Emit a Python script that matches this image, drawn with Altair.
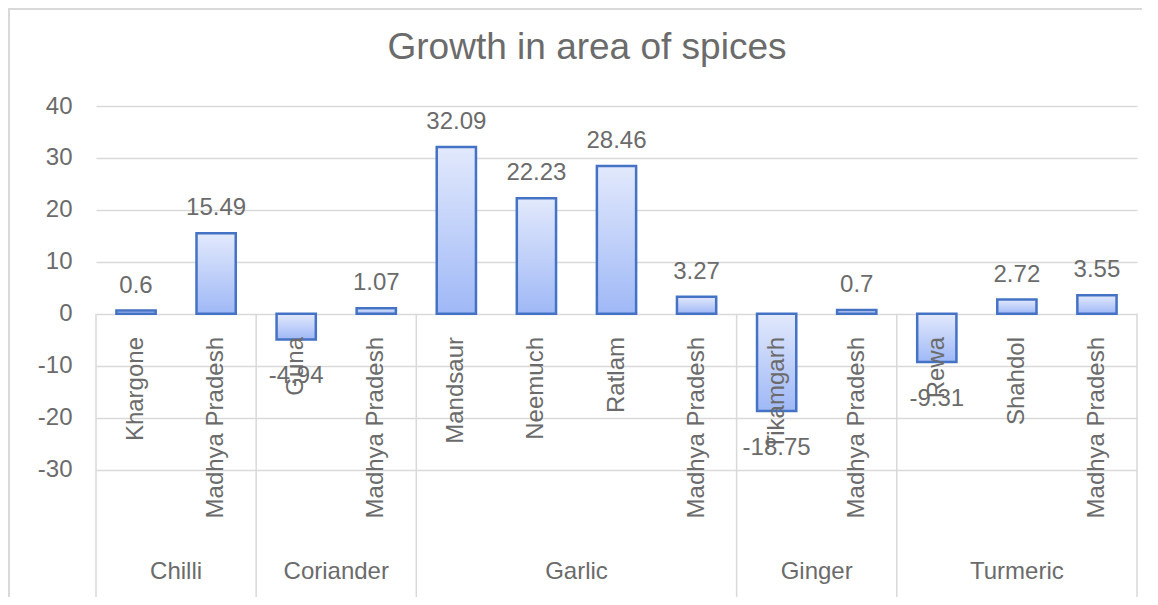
import altair as alt
import pandas as pd

title_text = "Growth in area of spices"
crops = ["Chilli", "Chilli", "Coriander", "Coriander", "Garlic", "Garlic", "Garlic",
         "Garlic", "Ginger", "Ginger", "Turmeric", "Turmeric", "Turmeric"]
districts = ["Khargone", "Madhya Pradesh", "Guna", "Madhya Pradesh", "Mandsaur", "Neemuch",
             "Ratlam", "Madhya Pradesh", "Tikamgarh", "Madhya Pradesh", "Rewa", "Shahdol",
             "Madhya Pradesh"]
growth = [0.6, 15.49, -4.94, 1.07, 32.09, 22.23, 28.46, 3.27, -18.75, 0.7, -9.31, 2.72, 3.55]
y_ticks = [-30, -20, -10, 0, 10, 20, 30, 40]

FONT = "Liberation Sans"
TXT = "#6b6b6b"
GRID = "#d9d9d9"
N = len(districts)
W, H = 1041, 496
PX_PER_UNIT = 5.3
YMAX = 40
YMIN = YMAX - H / PX_PER_UNIT

df = pd.DataFrame({"crop": crops, "district": districts, "growth": growth,
                   "label": [str(v) for v in growth]})
df["idx"] = range(N)
df["pos"] = df["idx"] + 0.5
df["x0"] = df["idx"] + 0.255
df["x1"] = df["idx"] + 0.745
df["zero"] = 0.0

groups = []
start = 0
for c in dict.fromkeys(crops):
    n = crops.count(c)
    groups.append({"crop": c, "start": start, "end": start + n, "mid": start + n / 2})
    start += n
gdf = pd.DataFrame(groups)
bounds = pd.DataFrame({"b": [0] + [g["end"] for g in groups], "zero": 0.0})

xs = alt.Scale(domain=[0, N], nice=False, zero=False)
ys = alt.Scale(domain=[YMIN, YMAX], nice=False, zero=False)

grad = alt.LinearGradient(
    gradient="linear",
    stops=[alt.GradientStop(color="#e2e9fc", offset=0),
           alt.GradientStop(color="#9fb8f6", offset=1)],
    x1=0, x2=0, y1=0, y2=1)

base = alt.Chart(df)

grid = base.mark_bar(opacity=0).encode(
    x=alt.X("x0:Q", scale=xs, axis=None),
    x2="x1:Q",
    y=alt.Y("zero:Q", scale=ys,
            axis=alt.Axis(values=y_ticks, grid=True, gridColor=GRID, gridWidth=1.5,
                          ticks=False, domain=False, title=None, labelFont=FONT,
                          labelFontSize=24, labelColor=TXT, labelPadding=24,
                          labelExpr="'' + datum.value")),
)

seps = alt.Chart(bounds).mark_rule(color=GRID, strokeWidth=1.5).encode(
    x=alt.X("b:Q", scale=xs, axis=None),
    y=alt.Y("zero:Q", scale=ys),
    y2=alt.value(H),
)

bars = base.mark_bar(fill=grad, stroke="#4472c4", strokeWidth=2.5).encode(
    x=alt.X("x0:Q", scale=xs, axis=None),
    x2="x1:Q",
    y=alt.Y("growth:Q", scale=ys),
    y2="zero:Q",
)

pos_lbl = base.transform_filter("datum.growth >= 0").mark_text(
    baseline="alphabetic", dy=-18, font=FONT, fontSize=24, color=TXT).encode(
    x=alt.X("pos:Q", scale=xs), y=alt.Y("growth:Q", scale=ys), text="label:N")

neg_lbl = base.transform_filter("datum.growth < 0").mark_text(
    baseline="alphabetic", dy=44, font=FONT, fontSize=24, color=TXT).encode(
    x=alt.X("pos:Q", scale=xs), y=alt.Y("growth:Q", scale=ys), text="label:N")

sub_lbl = base.mark_text(angle=270, align="right", baseline="middle",
                         font=FONT, fontSize=24, color=TXT).encode(
    x=alt.X("pos:Q", scale=xs), y=alt.value(236), text="district:N")

cat_lbl = alt.Chart(gdf).mark_text(align="center", baseline="alphabetic",
                                   font=FONT, fontSize=24, color=TXT).encode(
    x=alt.X("mid:Q", scale=xs), y=alt.value(478), text="crop:N")

title = alt.Chart(pd.DataFrame({"t": [title_text]})).mark_text(
    align="center", baseline="alphabetic", font=FONT, fontSize=37, color=TXT).encode(
    x=alt.value(491), y=alt.value(-42), text="t:N")

border_l = alt.Chart(pd.DataFrame({"a": [0]})).mark_rule(color=GRID, strokeWidth=2).encode(
    x=alt.value(-87), y=alt.value(-92), y2=alt.value(H))
border_t = alt.Chart(pd.DataFrame({"a": [0]})).mark_rule(color=GRID, strokeWidth=2).encode(
    x=alt.value(-88), x2=alt.value(W + 5), y=alt.value(-92))

chart = alt.layer(grid, seps, bars, pos_lbl, neg_lbl, sub_lbl, cat_lbl, title,
                  border_l, border_t).properties(
    width=W, height=H,
    autosize=alt.AutoSizeParams(type="none"),
    padding={"left": 88, "top": 93, "right": 5, "bottom": 0},
    background="white",
).configure_view(stroke=None)

chart.save("out.html", embed_options={"renderer": "svg", "actions": False})
